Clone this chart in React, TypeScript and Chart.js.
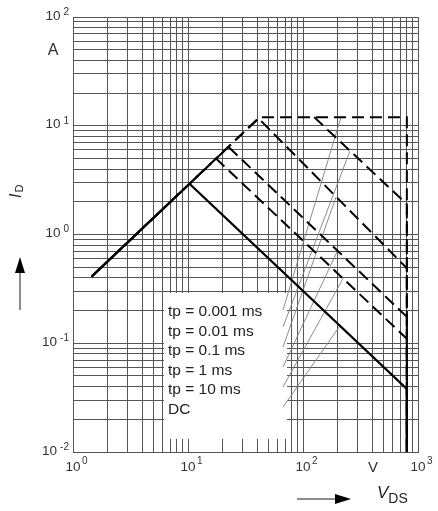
import React, { useEffect, useRef } from "react";
import { Chart, registerables } from "chart.js";

Chart.register(...registerables);

// Axis ranges
const X_MIN = 1;
const X_MAX = 1000;
const Y_MIN = 0.01;
const Y_MAX = 100;

// Decade tick labels
const xDecades = [1, 10, 100, 1000];
const xExponents = ["0", "1", "2", "3"];
const yDecades = [0.01, 0.1, 1, 10, 100];
const yExponents = ["-2", "-1", "0", "1", "2"];

// Curves: V_DS (V) and I_D (A)
const tp0001V = [1.45, 42, 800, 800];
const tp0001I = [0.41, 12, 12, 0.01];
const tp001V = [125, 800, 800];
const tp001I = [12, 1.9, 0.01];
const tp01V = [1.45, 41, 800, 800];
const tp01I = [0.41, 11.7, 0.49, 0.01];
const tp1V = [1.45, 22.5, 800, 800];
const tp1I = [0.41, 6.39, 0.175, 0.01];
const tp10V = [1.45, 17.55, 800, 800];
const tp10I = [0.41, 4.99, 0.11, 0.01];
const dcV = [1.45, 10.3, 800, 800];
const dcI = [0.41, 2.93, 0.038, 0.01];

// Legend entries and leader lines (legend -> curve)
const legendLabels = ["tp = 0.001 ms", "tp = 0.01 ms", "tp = 0.1 ms", "tp = 1 ms", "tp = 10 ms", "DC"];
const leaderStartV = [67, 67, 67, 67, 67, 67];
const leaderStartI = [0.202, 0.141, 0.0924, 0.0605, 0.0396, 0.0259];
const leaderEndV = [214, 256, 194, 201, 223, 210];
const leaderEndI = [12, 5.86, 2.22, 0.72, 0.395, 0.145];

// Legend box corners in data units
const legendBoxV = [6.18, 72.6];
const legendBoxI = [0.29, 0.0132];

const FONT = '"Liberation Sans", Arial, Helvetica, sans-serif';
const GRID = "#555";

function logGrid(min: number, max: number): number[] {
  const out: number[] = [];
  for (let d = min; d < max; d *= 10) {
    for (let m = 1; m <= 9; m++) out.push(+(d * m).toPrecision(3));
  }
  out.push(max);
  return out;
}

function pts(xs: number[], ys: number[]) {
  return xs.map((x, i) => ({ x, y: ys[i] }));
}

const decorPlugin = {
  id: "decor",
  beforeDatasetsDraw(chart: any) {
    const ctx = chart.ctx;
    const xs = chart.scales.x;
    const ys = chart.scales.y;
    const x0 = xs.getPixelForValue(legendBoxV[0]);
    const x1 = xs.getPixelForValue(legendBoxV[1]);
    const y0 = ys.getPixelForValue(legendBoxI[0]);
    const y1 = ys.getPixelForValue(legendBoxI[1]);
    ctx.save();
    ctx.fillStyle = "#fff";
    ctx.fillRect(x0, y0, x1 - x0, y1 - y0);
    ctx.fillStyle = "#222";
    ctx.font = `15.5px ${FONT}`;
    ctx.textAlign = "left";
    ctx.textBaseline = "middle";
    legendLabels.forEach((t, i) => {
      ctx.fillText(t, x0 + 4, y0 + 19 + i * 19.5);
    });
    ctx.restore();
  },
  afterDraw(chart: any) {
    const ctx = chart.ctx;
    const xs = chart.scales.x;
    const ys = chart.scales.y;
    ctx.save();
    ctx.fillStyle = "#333";
    // y tick labels
    yDecades.forEach((v, i) => {
      const py = ys.getPixelForValue(v);
      const e = yExponents[i];
      ctx.font = `10px ${FONT}`;
      const ew = ctx.measureText(e).width;
      ctx.textAlign = "left";
      ctx.textBaseline = "middle";
      ctx.fillText(e, 69 - ew, py - 5);
      ctx.font = `13.5px ${FONT}`;
      ctx.textAlign = "right";
      ctx.fillText("10", 69 - ew - 3, py - 1);
    });
    // x tick labels
    xDecades.forEach((v, i) => {
      const px = xs.getPixelForValue(v);
      ctx.font = `13.5px ${FONT}`;
      ctx.textAlign = "center";
      ctx.textBaseline = "middle";
      ctx.fillText("10", px, 467);
      ctx.font = `10px ${FONT}`;
      ctx.textAlign = "left";
      ctx.fillText(xExponents[i], px + 9, 461);
    });
    // unit labels
    ctx.font = `16px ${FONT}`;
    ctx.textAlign = "center";
    ctx.textBaseline = "middle";
    ctx.fillText("A", 53, ys.getPixelForValue(50) + 1);
    ctx.font = `15px ${FONT}`;
    ctx.fillText("V", xs.getPixelForValue(406), 468);

    // y title: I_D rotated
    ctx.fillStyle = "#222";
    ctx.save();
    ctx.translate(21, 198);
    ctx.rotate(-Math.PI / 2);
    ctx.textAlign = "left";
    ctx.textBaseline = "alphabetic";
    ctx.font = `italic 16px ${FONT}`;
    ctx.fillText("I", 0, 0);
    const iw = ctx.measureText("I").width;
    ctx.font = `11px ${FONT}`;
    ctx.fillText("D", iw + 1, 2);
    ctx.restore();

    // x title: V_DS
    ctx.textAlign = "left";
    ctx.textBaseline = "alphabetic";
    ctx.font = `italic 17px ${FONT}`;
    ctx.fillText("V", 377, 498);
    const vw = ctx.measureText("V").width;
    ctx.font = `14px ${FONT}`;
    ctx.fillText("DS", 377 + vw, 503);

    // arrows
    ctx.strokeStyle = "#666";
    ctx.lineWidth = 1.5;
    ctx.beginPath();
    ctx.moveTo(20, 310);
    ctx.lineTo(20, 270);
    ctx.stroke();
    ctx.fillStyle = "#000";
    ctx.beginPath();
    ctx.moveTo(20, 257);
    ctx.lineTo(15, 273);
    ctx.lineTo(25, 273);
    ctx.closePath();
    ctx.fill();

    ctx.beginPath();
    ctx.moveTo(297, 499);
    ctx.lineTo(337, 499);
    ctx.stroke();
    ctx.beginPath();
    ctx.moveTo(351, 499);
    ctx.lineTo(335, 494);
    ctx.lineTo(335, 504);
    ctx.closePath();
    ctx.fill();
    ctx.restore();
  },
};

export default function App() {
  const ref = useRef<HTMLCanvasElement>(null);
  useEffect(() => {
    const curve = (xs: number[], ys: number[], dash: number[], offset: number, width: number) => ({
      data: pts(xs, ys),
      showLine: true,
      borderColor: "#000",
      backgroundColor: "#000",
      borderWidth: width,
      borderDash: dash,
      borderDashOffset: offset,
      pointRadius: 0,
      fill: false,
      tension: 0,
      borderCapStyle: "butt",
      borderJoinStyle: "miter",
    });
    const leaders = legendLabels.map((_, i) => ({
      data: [
        { x: leaderStartV[i], y: leaderStartI[i] },
        { x: leaderEndV[i], y: leaderEndI[i] },
      ],
      showLine: true,
      borderColor: "#808080",
      borderWidth: 0.9,
      pointRadius: 0,
      fill: false,
    }));
    const DASH = [12, 6];
    const chart = new Chart(ref.current!, {
      type: "scatter",
      data: {
        datasets: [
          curve(dcV, dcI, [], 0, 2.3),
          curve(tp0001V, tp0001I, DASH, 0, 2),
          curve(tp001V, tp001I, DASH, 0, 2),
          curve(tp01V, tp01I, DASH, 0, 2),
          curve(tp1V, tp1I, DASH, 9, 2),
          curve(tp10V, tp10I, DASH, 9, 2),
          ...leaders,
        ] as any,
      },
      options: {
        responsive: false,
        animation: false,
        devicePixelRatio: 1,
        layout: { padding: { left: 73, top: 17, right: 20, bottom: 59 } },
        plugins: { legend: { display: false }, tooltip: { enabled: false } },
        scales: {
          x: {
            type: "logarithmic",
            min: X_MIN,
            max: X_MAX,
            ticks: { display: false },
            grid: { color: GRID, lineWidth: 1, drawTicks: false },
            border: { display: true, color: GRID },
            afterBuildTicks: (s: any) => {
              s.ticks = logGrid(X_MIN, X_MAX).map((v) => ({ value: v }));
            },
          },
          y: {
            type: "logarithmic",
            min: Y_MIN,
            max: Y_MAX,
            ticks: { display: false },
            grid: { color: GRID, lineWidth: 1, drawTicks: false },
            border: { display: true, color: GRID },
            afterBuildTicks: (s: any) => {
              s.ticks = logGrid(Y_MIN, Y_MAX).map((v) => ({ value: v }));
            },
          },
        },
      } as any,
      plugins: [decorPlugin],
    });
    return () => chart.destroy();
  }, []);
  return (
    <div style={{ position: "absolute", left: 0, top: 0, width: 438, height: 511, background: "#fff" }}>
      <canvas ref={ref} width={438} height={511} style={{ display: "block", width: 438, height: 511 }} />
    </div>
  );
}
